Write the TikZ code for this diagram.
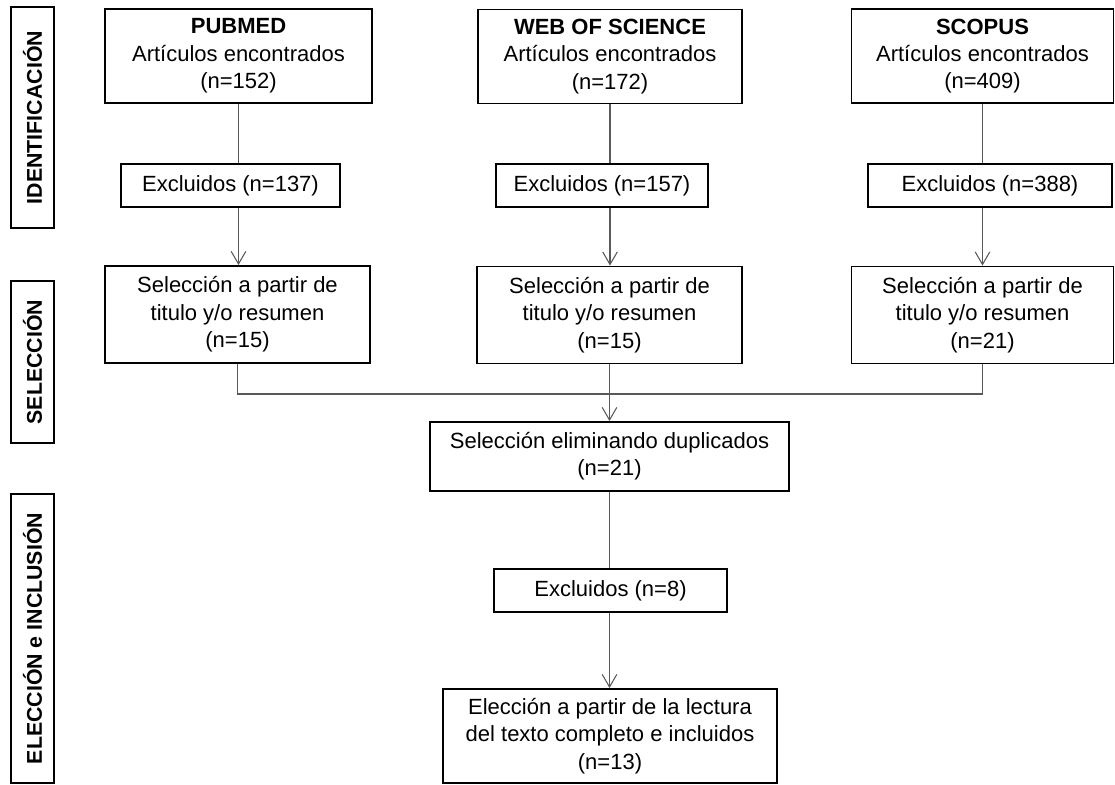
\documentclass[tikz,border=0pt]{standalone}
\usepackage{fontspec}
\setmainfont{Liberation Sans}
\usetikzlibrary{arrows.meta}
\begin{document}
\begin{tikzpicture}[x=0.75pt,y=-0.75pt,
  box/.style={draw,line width=1.4pt,fill=white,align=center,inner sep=0pt,
    font=\fontsize{16.5}{20.5}\selectfont},
  side/.style={draw,line width=1.4pt,rotate=90,inner sep=0pt,
    minimum height=32.25pt,font=\bfseries\fontsize{16}{19}\selectfont},
  conn/.style={draw=black!65,line width=0.8pt},
  arr/.style={conn,-{Straight Barb[length=9.5pt,width=11pt,line width=0.8pt]}}]
\useasboundingbox (0,0) rectangle (1115,785);

% side labels
\node[side,minimum width=165.75pt] (s1) at (32.5,117.5) {IDENTIFICACIÓN};
\node[side,minimum width=121.5pt]  (s2) at (32.5,362)   {SELECCIÓN};
\node[side,minimum width=216.75pt] (s3) at (32.5,638.5) {ELECCIÓN e INCLUSIÓN};

% sources
\node[box,minimum width=200.25pt,minimum height=70.5pt] (pub) at (238.5,56)
  {\textbf{PUBMED}\\Artículos encontrados\\(n=152)};
\node[box,minimum width=198pt,minimum height=70.5pt] (wos) at (610,56.5)
  {\textbf{WEB OF SCIENCE}\\Artículos encontrados\\(n=172)};
\node[box,minimum width=196.5pt,minimum height=70.5pt] (sco) at (982.5,56)
  {\textbf{SCOPUS}\\Artículos encontrados\\(n=409)};

% excluded
\node[box,minimum width=164.25pt,minimum height=32.25pt] (ex1) at (230.5,185.5) {Excluidos (n=137)};
\node[box,minimum width=159pt,minimum height=32.25pt] (ex2) at (602,185.5) {Excluidos (n=157)};
\node[box,minimum width=183pt,minimum height=32.25pt] (ex3) at (990,185.5) {Excluidos (n=388)};

% selection
\node[box,minimum width=198.75pt,minimum height=72.75pt] (se1) at (237.5,314.5)
  {Selección a partir de\\titulo y/o resumen\\(n=15)};
\node[box,minimum width=198.75pt,minimum height=72.75pt] (se2) at (609.5,315)
  {Selección a partir de\\titulo y/o resumen\\(n=15)};
\node[box,minimum width=196.5pt,minimum height=72.75pt] (se3) at (982.5,315)
  {Selección a partir de\\titulo y/o resumen\\(n=21)};

% lower column
\node[box,minimum width=269.25pt,minimum height=51.75pt] (dup) at (609.5,456.5)
  {Selección eliminando duplicados\\(n=21)};
\node[box,minimum width=174.75pt,minimum height=32.25pt] (ex4) at (610.5,590.5) {Excluidos (n=8)};
\node[box,minimum width=250.5pt,minimum height=70.5pt] (fin) at (610,736)
  {Elección a partir de la lectura\\del texto completo e incluidos\\(n=13)};

\coordinate (m) at (610,394);

% connectors
\draw[conn] (pub.south) -- (pub.south |- ex1.north);
\draw[arr] (pub.south |- ex1.south) -- (pub.south |- se1.north);
\draw[conn] (wos.south) -- (wos.south |- ex2.north);
\draw[arr] (wos.south |- ex2.south) -- (wos.south |- se2.north);
\draw[conn] (sco.south) -- (sco.south |- ex3.north);
\draw[arr] (sco.south |- ex3.south) -- (sco.south |- se3.north);

\draw[conn] (se1.south) -- (se1.south |- m) -- (se3.south |- m) -- (se3.south);
\draw[arr] (se2.south) -- (dup.north);
\draw[conn] (dup.south) -- (dup.south |- ex4.north);
\draw[arr] (dup.south |- ex4.south) -- (dup.south |- fin.north);
\end{tikzpicture}
\end{document}
